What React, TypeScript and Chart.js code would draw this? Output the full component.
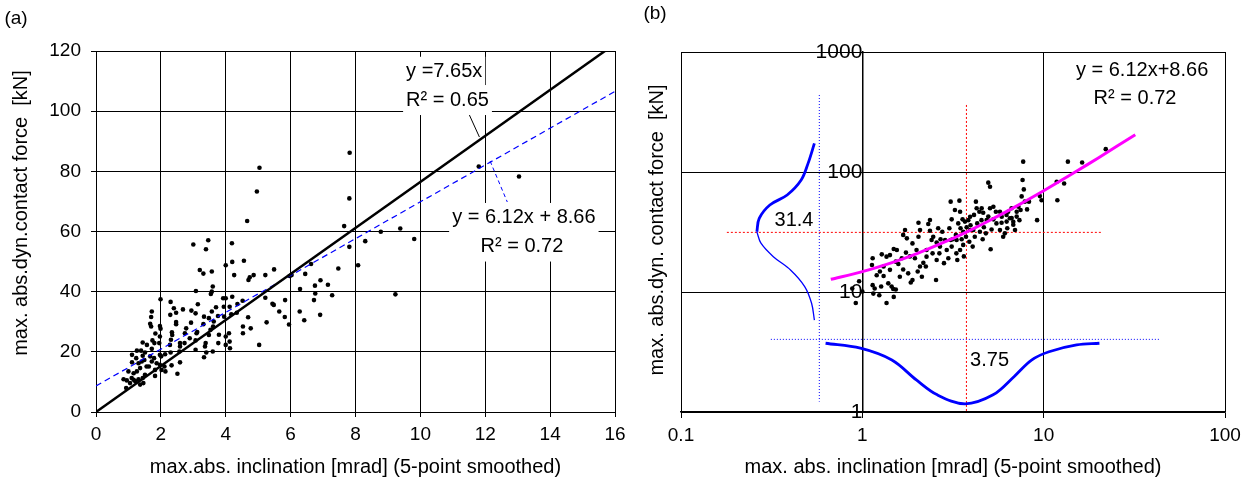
import { useEffect, useRef } from 'react';
import { Chart, registerables } from 'chart.js';

Chart.register(...registerables);

const FONT = "'Liberation Sans', Arial, sans-serif";

// ---------- Panel (a): linear axes ----------
const leftX = [4.96,4.66,7.81,7.65,7.81,3.0,3.46,3.39,4.19,4.0,4.2,4.56,3.2,3.31,3.57,4.26,4.7,4.86,4.74,5.22,5.49,5.97,6.03,6.45,6.63,7.47,8.08,8.3,8.78,9.38,9.81,9.23,6.29,6.75,6.92,7.15,6.76,6.72,7.28,6.28,6.42,6.91,5.83,5.95,5.82,5.65,5.44,5.48,5.22,5.26,5.03,3.08,3.6,3.54,3.57,3.14,2.94,3.07,2.68,2.47,2.3,2.4,2.29,1.99,1.72,1.7,1.67,1.7,1.83,1.97,1.99,2.34,2.35,2.47,2.47,2.78,2.74,2.93,3.12,3.1,3.33,3.31,3.48,3.57,3.7,3.76,3.63,3.61,3.53,3.48,3.79,3.92,4.0,3.94,3.95,4.12,4.2,4.17,4.34,4.36,4.52,4.53,4.53,4.69,4.77,4.1,4.12,4.13,4.0,4.0,3.77,3.38,3.36,3.4,3.33,3.6,3.07,3.07,2.89,2.73,2.59,2.59,2.57,2.59,2.51,2.33,2.3,2.28,2.31,2.13,2.11,1.97,1.95,1.97,1.8,1.74,1.72,1.57,1.44,1.39,1.44,1.51,1.67,1.63,1.82,1.87,2.01,2.02,1.82,2.14,1.97,1.26,1.11,1.11,1.24,1.31,1.36,1.26,1.16,1.0,0.85,0.95,1.1,1.16,1.21,1.31,1.36,1.46,1.44,1.51,0.93,1.05,1.56,1.72,1.79,1.49,1.41,5.04,7.82,11.8,13.04];
const leftY = [73.3,63.5,71.0,61.8,54.9,55.7,57.1,54.1,56.1,48.8,49.9,50.3,47.2,46.0,46.7,45.5,43.9,45.5,44.8,45.5,47.4,45.2,45.5,45.9,49.2,47.7,48.8,56.8,59.9,61.0,57.5,39.1,40.9,42.0,43.8,42.3,39.4,37.2,38.8,33.4,30.5,32.3,37.2,29.1,31.6,33.4,36.0,35.6,38.0,29.8,22.3,40.2,41.7,39.2,40.0,35.8,33.7,32.8,34.1,33.0,36.6,34.5,32.3,37.5,33.4,31.6,29.3,28.4,26.1,28.6,27.7,26.5,25.6,29.9,29.2,27.8,26.2,29.7,26.6,26.2,31.7,29.2,31.2,33.4,34.8,31.9,30.1,28.4,27.3,25.6,25.7,37.8,37.8,35.0,31.7,35.0,38.3,32.5,33.0,35.9,37.0,28.4,26.2,31.5,27.8,26.2,23.4,21.2,22.3,25.1,22.9,22.9,21.8,19.8,18.2,20.1,20.7,23.8,24.5,22.9,22.9,21.8,20.1,16.5,12.7,15.5,19.8,22.3,24.0,19.2,15.1,19.0,22.9,25.1,22.9,23.8,21.0,22.3,23.1,20.4,18.7,19.8,18.5,15.1,14.0,16.2,18.5,14.0,12.0,13.5,15.7,20.4,19.0,16.5,17.9,16.2,14.6,13.5,12.9,13.5,10.9,10.5,11.3,10.7,10.2,10.9,9.1,9.6,11.3,12.4,8.0,9.6,15.1,16.8,17.9,17.3,16.8,81.2,86.2,81.6,78.3];

const leftXTicks = [0, 2, 4, 6, 8, 10, 12, 14, 16];
const leftYTicks = [0, 20, 40, 60, 80, 100, 120];

// fit through origin y = 7.65x (clipped at the top of the axis)
const originFitX = [0, 15.69];
const originFitY = [0, 120];
// linear fit y = 6.12x + 8.66
const linFitX = [0, 16];
const linFitY = [8.66, 106.58];
// leader lines from the equations to the fit lines
const blackLeaderX = [11.47, 11.82];
const blackLeaderY = [99.7, 91.4];
const blueLeaderX = [12.15, 12.68];
const blueLeaderY = [83.4, 69.8];

// ---------- Panel (b): log-log axes ----------
const rightX = [0.88,0.92,0.96,1.0,1.14,1.13,1.14,1.15,1.17,1.24,1.25,1.27,1.28,1.31,1.36,1.39,1.42,1.45,1.48,1.49,1.53,1.42,1.49,1.53,1.58,1.68,1.72,1.76,1.68,1.65,1.74,1.83,1.89,1.85,1.89,1.95,1.99,2.04,2.04,2.02,2.13,2.17,2.24,2.26,2.31,2.36,2.41,2.46,2.44,2.55,2.66,2.57,2.70,2.76,2.82,2.92,2.98,3.02,3.11,3.07,3.15,3.24,3.28,3.30,3.34,3.43,3.46,3.48,3.53,3.57,3.6,3.6,3.63,3.73,3.76,3.84,3.89,3.95,4.06,4.09,4.13,4.17,4.23,4.27,4.30,4.45,4.54,4.61,4.64,4.68,4.8,4.95,5.06,4.95,5.06,5.1,5.16,5.28,5.45,5.49,5.74,5.86,5.98,6.11,6.24,6.37,6.3,6.51,6.65,6.80,6.95,7.10,7.26,7.35,7.46,7.56,7.65,7.71,7.77,7.87,8.1,8.3,9.2,9.53,9.74,11.8,11.9,12.97,13.6,16.3,22.0,2.08,2.36,2.62,2.86,3.07,3.38,3.68,3.93,4.42,4.55,4.85,5.28,5.74,5.87,6.25,6.66,7.1,6.8,1.79,1.61,2.08,2.26,2.57,2.68,3.11,3.31,3.93,3.46,1.36,1.55,1.31,1.2];
const rightY = [10.7,8.1,12.3,10.1,19.1,16.8,11.4,9.7,10.7,9.4,14.8,11.1,20.6,13.6,8.1,11.8,15.3,11.1,10.6,9.1,10.5,20.3,22.8,17.9,17.1,29.9,32.9,28.0,15.4,19.1,21.3,19.8,25.4,12.0,12.6,19.1,22.4,37.8,28.9,14.8,13.4,17.5,16.3,22.4,36.9,32.4,27.1,28.9,21.0,12.6,21.0,25.8,27.5,31.8,17.4,22.4,19.1,34.0,40.3,56.6,27.5,48.2,29.9,21.0,18.5,57.7,46.7,34.0,27.5,40.3,31.8,24.7,19.8,28.9,34.6,39.7,26.2,36.0,23.9,32.9,43.9,28.9,56.6,49.9,37.3,31.8,39.7,27.5,45.7,34.6,30.8,81.5,75.3,42.5,49.9,22.7,33.2,40.3,46.7,37.3,32.9,37.8,28.9,30.8,43.9,46.7,34.0,41.2,49.9,38.5,32.9,42.5,51.4,39.7,48.2,62.6,85.7,122,71.6,56.6,48.8,56.6,39.7,63.0,58.2,83.0,58.2,80.3,122,120,155,32.9,39.8,34.0,27.1,27.1,37.3,38.6,42.4,46.7,49.8,39.8,51.4,46.7,42.4,38.6,41.3,46.7,36.3,14.3,13.4,16.3,19.7,18.5,23.9,23.9,27.1,32.9,22.4,19.7,22.4,16.3,13.8];

const rightXTicks = [0.1, 1, 10, 100];
const rightYTicks = [1, 10, 100, 1000];

// y = 6.12x + 8.66 drawn on log-log axes
const logFitX = [0.67, 1, 1.5, 2, 3, 4, 5, 7, 10, 15, 20, 32];
const logFitY = [12.76, 14.78, 17.84, 20.9, 27.02, 33.14, 39.26, 51.5, 69.86, 100.46, 131.06, 204.5];

// distribution of force (drawn sideways along the y axis)
const forceDistUpperX = [0.544, 0.502, 0.46, 0.385, 0.309, 0.27, 0.262];
const forceDistUpperY = [173, 118, 85.7, 64.3, 53.1, 41.1, 31.8];
const forceDistLowerX = [0.262, 0.276, 0.323, 0.403, 0.481, 0.525, 0.544];
const forceDistLowerY = [31.8, 25.5, 19.7, 15.2, 11.1, 8.05, 5.84];
// distribution of inclination (drawn below the scatter)
const inclDistX = [0.627, 0.976, 1.455, 1.986, 2.59, 3.69, 5.26, 6.86, 8.57, 10.7, 15.2, 20.3];
const inclDistY = [3.74, 3.40, 2.71, 1.85, 1.39, 1.17, 1.39, 1.97, 2.71, 3.18, 3.62, 3.74];

// mean markers
const meanForceLineX = [0.179, 21];
const meanForceLineY = [31.4, 31.4];
const meanInclLineX = [3.75, 3.75];
const meanInclLineY = [362, 1];
// distribution base lines
const forceBaseX = [0.579, 0.579];
const forceBaseY = [438, 1.22];
const inclBaseX = [0.313, 43.7];
const inclBaseY = [4.03, 4.03];

const pts = (xs: number[], ys: number[]) => xs.map((x, i) => ({ x, y: ys[i] }));

type Label = {
  text: string;
  x: number;
  y: number;
  pixel?: boolean;
  align?: CanvasTextAlign;
  size?: number;
  rotate?: number;
  box?: boolean;
};

function labelPlugin(labels: Label[]) {
  return {
    id: 'textLabels',
    afterDraw(chart: any) {
      const ctx = chart.ctx as CanvasRenderingContext2D;
      const xs = chart.scales.x;
      const ys = chart.scales.y;
      for (const l of labels) {
        const px = l.pixel ? l.x : xs.getPixelForValue(l.x);
        const py = l.pixel ? l.y : ys.getPixelForValue(l.y);
        ctx.save();
        ctx.font = `${l.size ?? 20}px ${FONT}`;
        ctx.textAlign = l.align ?? 'center';
        ctx.textBaseline = 'middle';
        ctx.translate(px, py);
        if (l.rotate) ctx.rotate(l.rotate);
        if (l.box) {
          const w = ctx.measureText(l.text).width;
          let x0 = -w / 2;
          if (l.align === 'left') x0 = 0;
          if (l.align === 'right') x0 = -w;
          ctx.fillStyle = '#fff';
          ctx.fillRect(x0 - 3, -15, w + 6, 30);
        }
        ctx.fillStyle = '#000';
        ctx.fillText(l.text, 0, 0);
        ctx.restore();
      }
    },
  };
}

const lineDs = (data: any, color: string, width: number, dash: number[] = [], tension = 0) => ({
  data,
  showLine: true,
  borderColor: color,
  borderWidth: width,
  borderDash: dash,
  pointRadius: 0,
  tension,
  fill: false,
});

const tickFont = (size: number) => ({ family: FONT, size });

function makeLeft(canvas: HTMLCanvasElement) {
  return new Chart(canvas, {
    type: 'scatter',
    data: {
      datasets: [
        lineDs(pts(originFitX, originFitY), '#000', 2.5),
        lineDs(pts(linFitX, linFitY), '#0000ff', 1.2, [6, 4]),
        lineDs(pts(blackLeaderX, blackLeaderY), '#000', 1),
        lineDs(pts(blueLeaderX, blueLeaderY), '#0000ff', 1, [4, 3]),
        {
          data: pts(leftX, leftY),
          pointRadius: 2.3,
          pointBackgroundColor: '#000',
          pointBorderWidth: 0,
          showLine: false,
        },
      ] as any,
    },
    options: {
      responsive: false,
      animation: false,
      events: [],
      layout: { padding: { left: 0, top: 51, right: 25, bottom: 0 } },
      plugins: { legend: { display: false }, tooltip: { enabled: false } },
      scales: {
        x: {
          type: 'linear',
          min: 0,
          max: 16,
          afterBuildTicks: (s: any) => { s.ticks = leftXTicks.map((v) => ({ value: v })); },
          afterFit: (s: any) => { s.height = 71; },
          grid: { color: '#000', lineWidth: 1, tickLength: 5 },
          border: { color: '#000', width: 1 },
          ticks: { color: '#000', font: tickFont(19), padding: 6, maxRotation: 0, autoSkip: false },
          title: {
            display: true,
            text: 'max.abs. inclination [mrad] (5-point smoothed)',
            color: '#000',
            font: { family: FONT, size: 20 },
            padding: { top: 0, bottom: 4 },
          },
        },
        y: {
          type: 'linear',
          min: 0,
          max: 120,
          afterBuildTicks: (s: any) => { s.ticks = leftYTicks.map((v) => ({ value: v })); },
          afterFit: (s: any) => { s.width = 96; },
          grid: { color: '#000', lineWidth: 1, tickLength: 5 },
          border: { color: '#000', width: 1 },
          ticks: { color: '#000', font: tickFont(19), padding: 10, autoSkip: false },
        },
      },
    } as any,
    plugins: [
      labelPlugin([
        { text: '(a)', x: 16, y: 19, pixel: true, size: 19 },
        { text: 'max. abs.dyn.contact force  [kN]', x: 21, y: 213, pixel: true, rotate: -Math.PI / 2 },
        { text: 'y =7.65x', x: 9.56, y: 113.1, align: 'left', box: true },
        { text: 'R² = 0.65', x: 9.56, y: 103.7, align: 'left', box: true },
        { text: 'y = 6.12x + 8.66', x: 13.19, y: 64.5, box: true },
        { text: 'R² = 0.72', x: 13.13, y: 55.0, box: true },
      ]) as any,
    ],
  });
}

function makeRight(canvas: HTMLCanvasElement) {
  return new Chart(canvas, {
    type: 'scatter',
    data: {
      datasets: [
        lineDs(pts(logFitX, logFitY), '#ff00ff', 3, [], 0.3),
        {
          data: pts(rightX, rightY),
          pointRadius: 2.3,
          pointBackgroundColor: '#000',
          pointBorderWidth: 0,
          showLine: false,
        },
        lineDs(pts(forceDistUpperX, forceDistUpperY), '#0000ff', 2.8, [], 0.35),
        lineDs(pts(forceDistLowerX, forceDistLowerY), '#0000ff', 1.3, [], 0.35),
        lineDs(pts(inclDistX, inclDistY), '#0000ff', 2.8, [], 0.35),
        lineDs(pts(meanForceLineX, meanForceLineY), '#ff0000', 1, [2, 2]),
        lineDs(pts(meanInclLineX, meanInclLineY), '#ff0000', 1, [2, 2]),
        lineDs(pts(forceBaseX, forceBaseY), '#0000ff', 1, [1, 2]),
        lineDs(pts(inclBaseX, inclBaseY), '#0000ff', 1, [1, 2]),
      ] as any,
    },
    options: {
      responsive: false,
      animation: false,
      events: [],
      layout: { padding: { left: 41, top: 52, right: 32, bottom: 0 } },
      plugins: { legend: { display: false }, tooltip: { enabled: false } },
      scales: {
        x: {
          type: 'logarithmic',
          min: 0.1,
          max: 100,
          afterBuildTicks: (s: any) => { s.ticks = rightXTicks.map((v) => ({ value: v })); },
          afterFit: (s: any) => { s.height = 71; },
          grid: { color: '#000', lineWidth: 1, tickLength: 6 },
          border: { color: '#000', width: 1.5 },
          ticks: {
            color: '#000',
            font: tickFont(19),
            padding: 6,
            maxRotation: 0,
            autoSkip: false,
            callback: (v: any) => String(v),
          },
          title: {
            display: true,
            text: 'max. abs. inclination [mrad] (5-point smoothed)',
            color: '#000',
            font: { family: FONT, size: 20 },
            padding: { top: 0, bottom: 4 },
          },
        },
        y: {
          type: 'logarithmic',
          min: 1,
          max: 1000,
          position: { x: 1 },
          afterBuildTicks: (s: any) => { s.ticks = rightYTicks.map((v) => ({ value: v })); },
          grid: { color: '#000', lineWidth: 1, tickLength: 6 },
          border: { color: '#000', width: 1.5 },
          ticks: {
            color: '#000',
            font: tickFont(21),
            padding: 9,
            autoSkip: false,
            callback: (v: any) => String(v),
          },
        },
      },
    } as any,
    plugins: [
      labelPlugin([
        { text: '(b)', x: 15, y: 14, pixel: true, size: 19 },
        { text: 'max. abs.dyn. contact force  [kN]', x: 17, y: 230, pixel: true, rotate: -Math.PI / 2 },
        { text: 'y = 6.12x+8.66', x: 34.9, y: 708 },
        { text: 'R² = 0.72', x: 31.9, y: 406 },
        { text: '31.4', x: 0.42, y: 39.3 },
        { text: '3.75', x: 5.03, y: 2.71 },
      ]) as any,
    ],
  });
}

export default function App() {
  const leftRef = useRef<HTMLCanvasElement>(null);
  const rightRef = useRef<HTMLCanvasElement>(null);

  useEffect(() => {
    if (!leftRef.current || !rightRef.current) return;
    const a = makeLeft(leftRef.current);
    const b = makeRight(rightRef.current);
    return () => {
      a.destroy();
      b.destroy();
    };
  }, []);

  return (
    <div style={{ position: 'absolute', left: 0, top: 0, width: 1257, height: 483, background: '#fff' }}>
      <canvas
        ref={leftRef}
        width={640}
        height={483}
        style={{ position: 'absolute', left: 0, top: 0, width: 640, height: 483 }}
      />
      <canvas
        ref={rightRef}
        width={617}
        height={483}
        style={{ position: 'absolute', left: 640, top: 0, width: 617, height: 483 }}
      />
    </div>
  );
}
